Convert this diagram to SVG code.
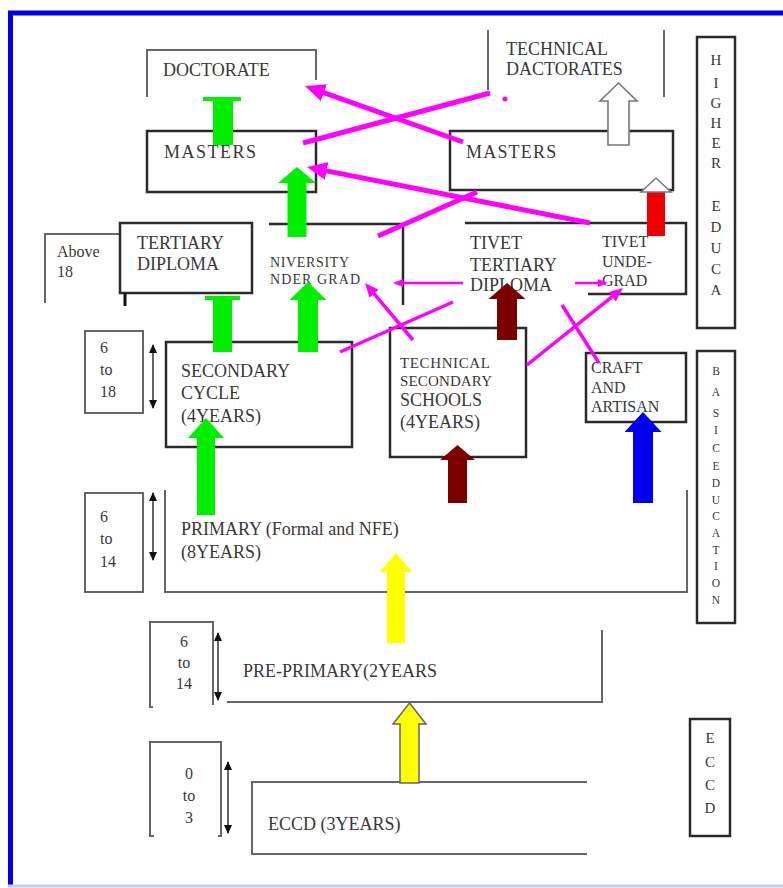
<svg xmlns="http://www.w3.org/2000/svg" width="783" height="888" viewBox="0 0 783 888">
<style>
text{font-family:"Liberation Serif","DejaVu Serif","Times New Roman",serif;fill:#383838;}
.t18{font-size:18px;}
.t16{font-size:16px;}
.t15{font-size:15px;}
.t14{font-size:14px;}
.v{font-size:15px;text-anchor:middle;}
.vs{font-size:11.5px;text-anchor:middle;}
.box{fill:none;stroke:#2a2a2a;stroke-width:2.5;}
.thin{fill:none;stroke:#555;stroke-width:1.8;}
.brk{fill:none;stroke:#666;stroke-width:2;}
.mag{fill:none;stroke:#f0f;stroke-linecap:butt;}
.mT{stroke-width:5;}
.mM{stroke-width:3.5;}
.mS{stroke-width:2.5;}
.dbl{stroke:#111;stroke-width:1.3;}
.green{fill:#00ee00;}
.dred{fill:#7a0000;}
.blue{fill:#0000ee;}
.yel{fill:#ffff00;}
</style>
<defs>
<marker id="ahT" markerUnits="userSpaceOnUse" markerWidth="20" markerHeight="18" refX="4" refY="9" orient="auto"><path d="M0,0 L20,9 L0,18 z" fill="#f0f"/></marker>
<marker id="ahM" markerUnits="userSpaceOnUse" markerWidth="14" markerHeight="12" refX="3" refY="6" orient="auto"><path d="M0,0 L14,6 L0,12 z" fill="#f0f"/></marker>
<marker id="ahS" markerUnits="userSpaceOnUse" markerWidth="10" markerHeight="8" refX="2" refY="4" orient="auto"><path d="M0,0 L10,4 L0,8 z" fill="#f0f"/></marker>
<marker id="dbl" markerUnits="userSpaceOnUse" markerWidth="9" markerHeight="8" refX="8" refY="4" orient="auto-start-reverse"><path d="M0,0 L9,4 L0,8 z" fill="#111"/></marker>
</defs>

<rect x="0" y="0" width="783" height="888" fill="#fff"/>
<g id="frame">
<path d="M10.5,886 L10.5,13 L783,13" fill="none" stroke="#0000e6" stroke-width="5"/>
<line x1="8" y1="886" x2="783" y2="886" stroke="#c9c9f5" stroke-width="3"/>
</g>

<g id="doctorate">
<path class="brk" d="M147,97 L147,50 L316,50 L316,80"/>
<text class="t18" x="163" y="76">DOCTORATE</text>
</g>
<g id="technical-doctorates">
<line class="brk" x1="488" y1="30" x2="488" y2="90"/>
<line class="brk" x1="664" y1="30" x2="664" y2="97"/>
<text class="t18" x="506" y="55">TECHNICAL</text>
<text class="t18" x="506" y="75">DACTORATES</text>
</g>
<g id="masters-left">
<rect class="box" x="147" y="131" width="169" height="61"/>
<text class="t18" x="164" y="158" letter-spacing="1.5">MASTERS</text>
</g>
<g id="masters-right">
<rect class="box" x="450" y="131" width="223" height="59"/>
<text class="t18" x="466" y="158" letter-spacing="1.2">MASTERS</text>
</g>
<g id="higher-education">
<rect class="box" x="697" y="37" width="38" height="291"/>
<text class="v" x="716" y="65">H</text>
<text class="v" x="716" y="88">I</text>
<text class="v" x="716" y="108">G</text>
<text class="v" x="716" y="128">H</text>
<text class="v" x="716" y="148">E</text>
<text class="v" x="716" y="168">R</text>
<text class="v" x="716" y="211">E</text>
<text class="v" x="716" y="232">D</text>
<text class="v" x="716" y="253">U</text>
<text class="v" x="716" y="274">C</text>
<text class="v" x="716" y="295">A</text>
</g>

<g id="above18">
<path class="brk" d="M45,303 L45,234 L120,234"/>
<text class="t16" x="57" y="257">Above</text>
<text class="t16" x="57" y="277">18</text>
</g>
<g id="tertiary-diploma">
<rect class="box" x="120" y="223" width="132" height="70" stroke-width="2"/>
<line x1="125" y1="293" x2="125" y2="306" stroke="#111" stroke-width="3"/>
<text class="t18" x="137" y="249">TERTIARY</text>
<text class="t18" x="137" y="270">DIPLOMA</text>
</g>
<g id="university-undergrad">
<path class="box" d="M269,224 L403,224 L403,305"/>
<text class="t14" x="270" y="267" textLength="79">NIVERSITY</text>
<text class="t14" x="270" y="284" textLength="90">NDER GRAD</text>
</g>
<g id="tivet-tertiary">
<line class="box" x1="465" y1="223" x2="590" y2="223"/>
<text class="t18" x="470" y="249">TIVET</text>
<text class="t18" x="470" y="271">TERTIARY</text>
<text class="t18" x="470" y="291">DIPLOMA</text>
</g>
<g id="tivet-undergrad">
<path class="box" d="M588,223 L686,223 L686,294 L588,294"/>
<text class="t16" x="602" y="247">TIVET</text>
<text class="t16" x="602" y="267">UNDE-</text>
<text class="t16" x="602" y="286">GRAD</text>
</g>

<g id="age-6-18">
<rect class="thin" x="85" y="331" width="58" height="82"/>
<text class="t16" x="100" y="353">6</text>
<text class="t16" x="100" y="375">to</text>
<text class="t16" x="100" y="397">18</text>
<line class="dbl" x1="153" y1="345" x2="153" y2="408" marker-start="url(#dbl)" marker-end="url(#dbl)"/>
</g>
<g id="secondary-cycle">
<rect class="box" x="166" y="342" width="186" height="105" stroke-width="3"/>
<text class="t18" x="181" y="377">SECONDARY</text>
<text class="t18" x="181" y="399">CYCLE</text>
<text class="t18" x="181" y="422">(4YEARS)</text>
</g>
<g id="technical-secondary">
<rect class="box" x="390" y="328" width="136" height="129" stroke-width="3"/>
<text class="t15" x="400" y="368" textLength="90">TECHNICAL</text>
<text class="t15" x="400" y="386" textLength="92">SECONDARY</text>
<text class="t18" x="400" y="406">SCHOOLS</text>
<text class="t18" x="400" y="428">(4YEARS)</text>
</g>
<g id="craft-artisan">
<rect class="box" x="586" y="353" width="100" height="69"/>
<text class="t16" x="591" y="373">CRAFT</text>
<text class="t16" x="591" y="393">AND</text>
<text class="t16" x="591" y="412">ARTISAN</text>
</g>
<g id="basic-education">
<rect class="box" x="697" y="351" width="38" height="272"/>
<text class="vs" x="716" y="375">B</text>
<text class="vs" x="716" y="396">A</text>
<text class="vs" x="716" y="417">S</text>
<text class="vs" x="716" y="434">I</text>
<text class="vs" x="716" y="452">C</text>
<text class="vs" x="716" y="470">E</text>
<text class="vs" x="716" y="487">D</text>
<text class="vs" x="716" y="504">U</text>
<text class="vs" x="716" y="520">C</text>
<text class="vs" x="716" y="537">A</text>
<text class="vs" x="716" y="554">T</text>
<text class="vs" x="716" y="570">I</text>
<text class="vs" x="716" y="587">O</text>
<text class="vs" x="716" y="604">N</text>
</g>

<g id="age-6-14-primary">
<rect class="thin" x="85" y="493" width="58" height="99"/>
<text class="t16" x="100" y="522">6</text>
<text class="t16" x="100" y="544">to</text>
<text class="t16" x="100" y="567">14</text>
<line class="dbl" x1="153" y1="493" x2="153" y2="560" marker-start="url(#dbl)" marker-end="url(#dbl)"/>
</g>
<g id="primary">
<path class="brk" d="M165,490 L165,592 L687,592 L687,490"/>
<text class="t18" x="181" y="535">PRIMARY (Formal and NFE)</text>
<text class="t18" x="181" y="558">(8YEARS)</text>
</g>

<g id="age-6-14-preprimary">
<path class="brk" d="M153,707 L150,707 L150,622 L213,622 L213,705"/>
<text class="t16" x="184" y="647" text-anchor="middle">6</text>
<text class="t16" x="184" y="668" text-anchor="middle">to</text>
<text class="t16" x="184" y="689" text-anchor="middle">14</text>
<line class="dbl" x1="218" y1="633" x2="218" y2="700" marker-start="url(#dbl)" marker-end="url(#dbl)"/>
</g>
<g id="pre-primary">
<path class="brk" d="M227,702 L602,702 L602,630"/>
<text class="t18" x="243" y="677">PRE-PRIMARY(2YEARS</text>
</g>

<g id="age-0-3">
<path class="brk" d="M154,836 L150,836 L150,742 L221,742 L221,836 L218,836"/>
<text class="t16" x="189" y="779" text-anchor="middle">0</text>
<text class="t16" x="189" y="801" text-anchor="middle">to</text>
<text class="t16" x="189" y="823" text-anchor="middle">3</text>
<line class="dbl" x1="228" y1="762" x2="228" y2="833" marker-start="url(#dbl)" marker-end="url(#dbl)"/>
</g>
<g id="eccd-level">
<path class="brk" d="M587,782 L252,782 L252,854 L587,854"/>
<text class="t18" x="268" y="830">ECCD (3YEARS)</text>
</g>
<g id="eccd">
<rect class="box" x="690" y="719" width="40" height="117"/>
<text class="v" x="710" y="743">E</text>
<text class="v" x="710" y="767">C</text>
<text class="v" x="710" y="790">C</text>
<text class="v" x="710" y="813">D</text>
</g>

<g id="connectors">
<polygon class="green" points="203,97 241,97 241,101 233,101 233,145 213,145 213,101 203,101"/>
<polygon class="green" points="297,167 316,183 306.5,183 306.5,237 287.5,237 287.5,183 278,183"/>
<polygon class="green" points="205,296 240,296 240,300 232,300 232,352 213,352 213,300 205,300"/>
<polygon class="green" points="308,282 326.5,300 318,300 318,352 298,352 298,300 289.5,300"/>
<polygon class="green" points="206,418 224,438 215,438 215,515 197,515 197,438 188,438"/>
<polygon class="dred" points="507,283 525.5,299 517,299 517,340 497,340 497,299 488.5,299"/>
<polygon class="dred" points="457.5,445 475,460 467,460 467,503 448,503 448,460 440,460"/>
<polygon class="blue" points="643,412 661.5,432 653,432 653,503 633,503 633,432 624.5,432"/>
<rect x="647" y="190" width="18" height="46" fill="#ee0000"/>
<polygon points="656,178 671,192 641,192" fill="#fff" stroke="#777" stroke-width="1.5"/>
<polygon points="618.5,83 637,101 629,101 629,145 608,145 608,101 600,101" fill="#fff" stroke="#777" stroke-width="1.6"/>
<polygon class="yel" points="396,553 412,572 405,572 405,643 387,643 387,572 380,572"/>
<polygon class="yel" points="409.5,703 426,724 419,724 419,783 400,783 400,724 393,724" stroke="#666" stroke-width="1.5"/>
<line class="mag mT" x1="463" y1="142" x2="320.1" y2="91.3" marker-end="url(#ahT)"/>
<line class="mag mT" x1="490" y1="93" x2="303" y2="143"/>
<circle cx="505" cy="99" r="2.5" fill="#f0f"/>
<line class="mag mT" x1="590" y1="223" x2="322.7" y2="170.1" marker-end="url(#ahT)"/>
<line class="mag mT" x1="378" y1="236" x2="477" y2="192"/>
<line class="mag mS" x1="463" y1="283" x2="401" y2="283" marker-end="url(#ahS)"/>
<line class="mag mS" x1="575" y1="283" x2="600" y2="283" marker-end="url(#ahS)"/>
<line class="mag mM" x1="413" y1="340" x2="372.1" y2="291.4" marker-end="url(#ahM)"/>
<line class="mag mM" x1="340" y1="352" x2="453" y2="302"/>
<line class="mag mM" x1="527" y1="365" x2="614.4" y2="294.9" marker-end="url(#ahM)"/>
<line class="mag mM" x1="562" y1="305" x2="599" y2="363"/>
</g>
</svg>
